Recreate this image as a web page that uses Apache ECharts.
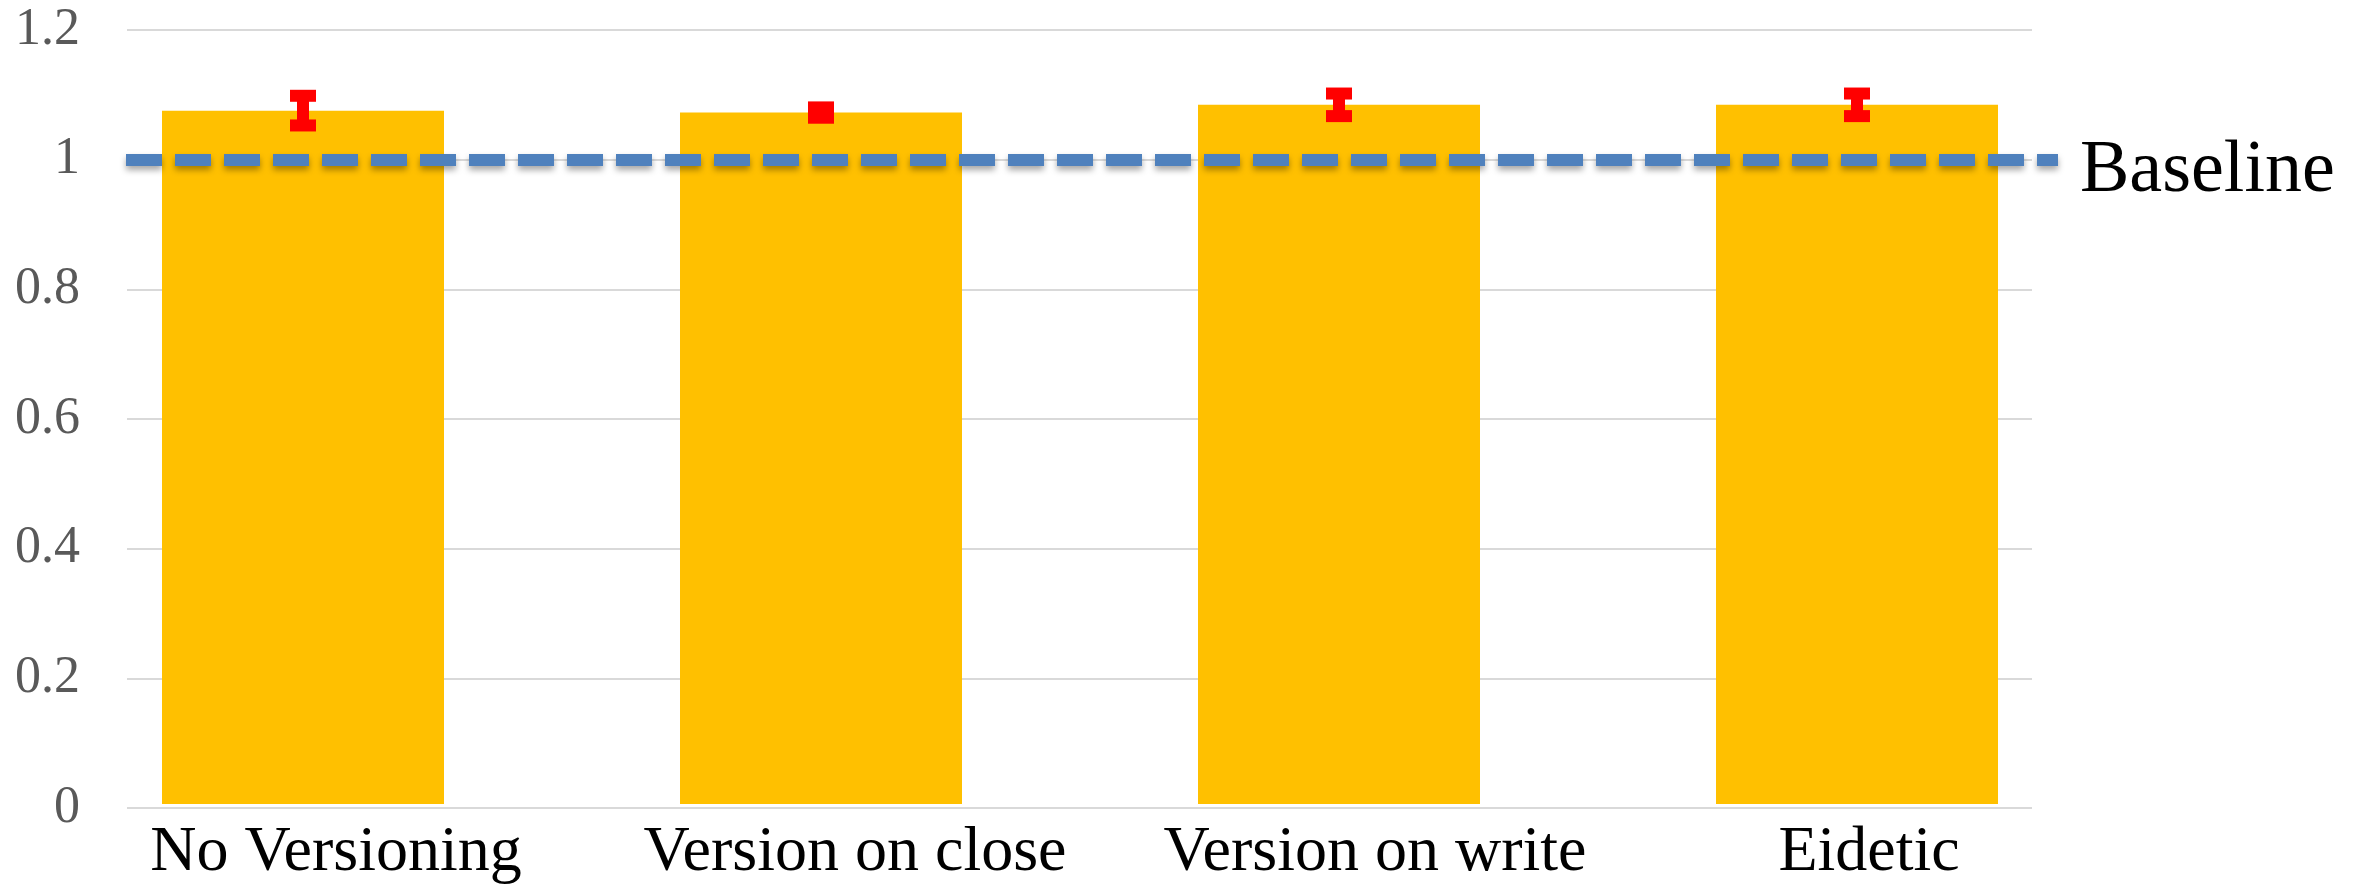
<!DOCTYPE html>
<html>
<head>
<meta charset="utf-8">
<title>Normalized performance by versioning mode</title>
<script src="https://cdn.jsdelivr.net/npm/echarts@6/dist/echarts.min.js"></script>
<style>
  html, body { margin: 0; padding: 0; background: #ffffff; }
  #chart { width: 2356px; height: 885px; }
</style>
</head>
<body>
<div id="chart"></div>
<script>
// Versioning modes on the x axis
const categories = ['No Versioning', 'Version on close', 'Version on write', 'Eidetic'];
// Mean runtime normalized to the baseline
const meanValues = [1.075, 1.072, 1.084, 1.084];
// Half-width of the error interval for each mode
const errorValues = [0.023, 0.008, 0.0175, 0.0175];
// Reference level
const baselineValue = 1;
const baselineLabel = 'Baseline';
// Y axis scale
const yMin = 0, yMax = 1.2, yStep = 0.2;

const serif = '"Liberation Serif", "Times New Roman", Times, serif';

// left padding of each category label (nudges the text right of its bar)
const labelPadLeft = [66, 68, 72, 24];

const chart = echarts.init(document.getElementById('chart'), null, { renderer: 'canvas' });

const errorData = meanValues.map((v, i) => [i, v - errorValues[i], v + errorValues[i]]);

const option = {
  backgroundColor: '#ffffff',
  animation: false,
  grid: [
    // gridlines + y labels
    { left: 127, right: 324, top: 30, bottom: 77 },
    // bars and category labels
    { left: 44, right: 240, top: 30, bottom: 77 },
    // baseline reference line
    { left: 126, right: 298, top: 30, bottom: 77 }
  ],
  xAxis: [
    { gridIndex: 0, type: 'value', min: 0, max: 1, show: false },
    {
      gridIndex: 1, type: 'category',
      data: categories.map((c, i) => ({ value: c, textStyle: { padding: [0, 0, 0, labelPadLeft[i]] } })),
      axisLine: { show: false }, axisTick: { show: false }, splitLine: { show: false },
      axisLabel: {
        interval: 0, hideOverlap: false,
        fontFamily: serif, fontSize: 64, color: '#000000', margin: 17
      }
    },
    { gridIndex: 2, type: 'value', min: 0, max: 1, show: false }
  ],
  yAxis: [
    {
      gridIndex: 0, type: 'value', min: yMin, max: yMax, interval: yStep,
      axisLine: { show: false }, axisTick: { show: false },
      axisLabel: {
        fontFamily: serif, fontSize: 52, color: '#595959', margin: 47,
        formatter: v => String(Math.round(v * 10) / 10)
      },
      splitLine: { show: true, lineStyle: { color: '#d9d9d9', width: 2 } }
    },
    { gridIndex: 1, type: 'value', min: yMin, max: yMax, show: false },
    { gridIndex: 2, type: 'value', min: yMin, max: yMax, show: false }
  ],
  series: [
    {
      type: 'bar',
      xAxisIndex: 1, yAxisIndex: 1,
      data: meanValues,
      barWidth: 282,
      itemStyle: { color: '#FFC000' },
      z: 2
    },
    {
      type: 'line',
      xAxisIndex: 2, yAxisIndex: 2,
      data: [],
      silent: true,
      z: 3,
      markLine: {
        silent: true,
        symbol: 'none',
        animation: false,
        lineStyle: {
          color: '#4F81BD', width: 12, type: [36, 13], cap: 'butt', opacity: 1,
          shadowColor: 'rgba(0,0,0,0.35)', shadowBlur: 6, shadowOffsetY: 4
        },
        label: {
          show: true, position: 'end', distance: 22, offset: [0, 12],
          formatter: baselineLabel,
          fontFamily: serif, fontSize: 74, color: '#000000'
        },
        data: [{ yAxis: baselineValue }]
      }
    },
    {
      type: 'custom',
      xAxisIndex: 1, yAxisIndex: 1,
      data: errorData,
      z: 4,
      renderItem: function (params, api) {
        const idx = api.value(0);
        const lo = api.coord([idx, api.value(1)]);
        const hi = api.coord([idx, api.value(2)]);
        const half = 13;
        const style = { stroke: '#FF0000', lineWidth: 12, lineCap: 'butt' };
        return {
          type: 'group',
          children: [
            { type: 'line', shape: { x1: hi[0], y1: hi[1], x2: lo[0], y2: lo[1] }, style: style },
            { type: 'line', shape: { x1: hi[0] - half, y1: hi[1], x2: hi[0] + half, y2: hi[1] }, style: style },
            { type: 'line', shape: { x1: lo[0] - half, y1: lo[1], x2: lo[0] + half, y2: lo[1] }, style: style }
          ]
        };
      }
    }
  ]
};

chart.setOption(option);
</script>
</body>
</html>
